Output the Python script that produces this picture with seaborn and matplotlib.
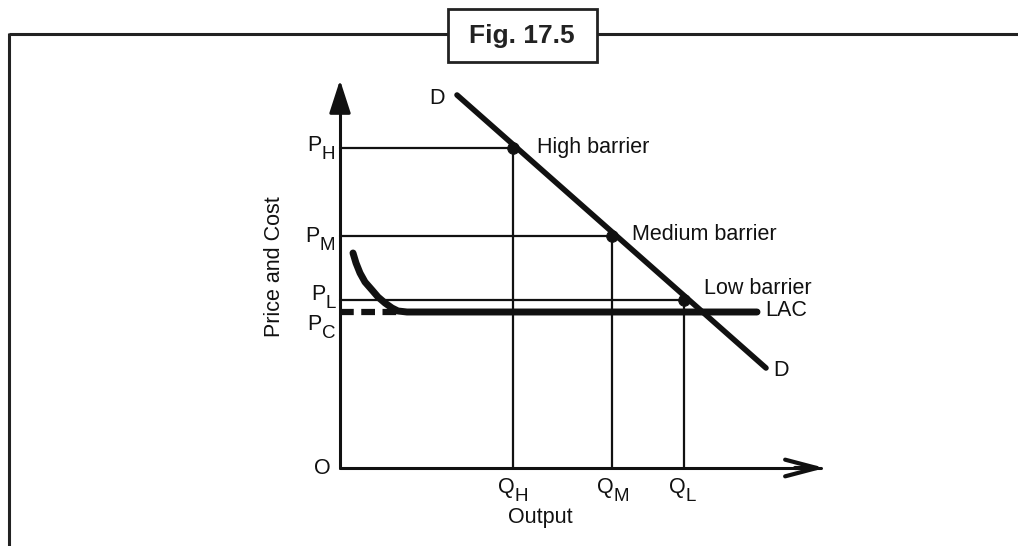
import matplotlib
matplotlib.use("Agg")
import matplotlib.pyplot as plt
import seaborn as sns
import numpy as np

# ---- data (diagram units: origin O at (0,0)) ----
q_labels = ["H", "M", "L"]
q_values = [173, 272, 344]          # Q_H, Q_M, Q_L
p_values = [320, 232, 168]          # P_H, P_M, P_L
p_c = 156                           # P_C (minimum LAC)
barrier_names = ["High barrier", "Medium barrier", "Low barrier"]

demand_x = [117, 426]
demand_y = [373, 100]

lac_x = [13, 16, 20, 25, 32, 38, 45, 52, 58, 67, 417]
lac_y = [215, 205, 195, 186, 178, 171, 165, 160, 157, 156, 156]

yaxis_top = 388
xaxis_end = 485

sns.set_theme(style="white")
plt.rcParams["font.family"] = ["Liberation Sans", "DejaVu Sans"]

W, H = 1018, 546
fig = plt.figure(figsize=(W / 100, H / 100), dpi=100)
fig.patch.set_facecolor("white")

# decoration axes in pixel space (frame + title box)
fax = fig.add_axes([0, 0, 1, 1], zorder=0)
fax.set_xlim(0, W)
fax.set_ylim(H, 0)
fax.axis("off")
fc = "#222222"
fax.plot([9, 448], [34, 34], color=fc, lw=2.2, solid_capstyle="butt")
fax.plot([597, W], [34, 34], color=fc, lw=2.2, solid_capstyle="butt")
fax.plot([9, 9], [33, H], color=fc, lw=2.2, solid_capstyle="butt")
fax.add_patch(plt.Rectangle((448, 9), 149, 53, fill=False, ec=fc, lw=2.0))
fax.text(522, 35.5, "Fig. 17.5", ha="center", va="center", fontsize=19,
         fontweight="bold", color=fc)

# main diagram axes
ax = fig.add_axes([0, 0, 1, 1], zorder=1)
ax.patch.set_alpha(0)
ax.set_xlim(-340, W - 340)
ax.set_ylim(-(H - 468), 468)
ax.axis("off")

ink = "#111111"
thin = 1.6


def seg(x, y, **kw):
    sns.lineplot(x=x, y=y, sort=False, estimator=None, errorbar=None,
                 ax=ax, **kw)
    return ax.lines[-1]


# axes lines
seg([0, 0], [0, yaxis_top - 20], color=ink, lw=2.2)
seg([0, xaxis_end - 4], [0, 0], color=ink, lw=2.2)
ax.annotate("", xy=(0, yaxis_top), xytext=(0, yaxis_top - 30),
            arrowprops=dict(arrowstyle="-|>,head_length=1.7,head_width=0.55",
                            lw=2.2, color=ink, shrinkA=0, shrinkB=0))
ax.annotate("", xy=(xaxis_end, 0), xytext=(xaxis_end - 30, 0),
            arrowprops=dict(arrowstyle="->,head_length=1.9,head_width=0.5",
                            lw=3.0, color=ink, shrinkA=0, shrinkB=0))

# price and quantity guide lines
for q, p in zip(q_values, p_values):
    seg([0, q], [p, p], color=ink, lw=thin)
    seg([q, q], [0, p], color=ink, lw=thin)

# dashed P_C segment
ln = seg([0, lac_x[8]], [p_c, p_c], color=ink, lw=4.5)
ln.set_dashes([2.2, 1.2])
ln.set_dash_capstyle("butt")

# LAC curve
ln = seg(lac_x, lac_y, color=ink, lw=5)
ln.set_solid_capstyle("round")
ln.set_solid_joinstyle("round")

# Demand
ln = seg(demand_x, demand_y, color=ink, lw=4)
ln.set_solid_capstyle("round")

# equilibrium points
sns.scatterplot(x=q_values, y=p_values, color=ink, s=70, ax=ax, zorder=5,
                edgecolor=ink)

fs = 15.5
sub_fs = 13.5


def sublabel(x, y, main, sub, dx):
    ax.text(x, y, main, ha="left", va="baseline", fontsize=fs, color=ink)
    ax.annotate(sub, xy=(x, y), xytext=(dx, -5.8), textcoords="offset points",
                ha="left", va="baseline", fontsize=sub_fs, color=ink)


# P labels (left x, baseline y)
p_label_pos = [(-33, 317), (-35, 226), (-29, 168)]
for name, (lx, yb) in zip(q_labels, p_label_pos):
    sublabel(lx, yb, "P", name, 10.6)
sublabel(-33, 138, "P", "C", 10.6)

# Q labels
for name, q in zip(q_labels, q_values):
    sublabel(q - 15, -25, "Q", name, 12.2)

ax.text(-9, 0, "O", ha="right", va="center", fontsize=fs, color=ink)
ax.text(200, -55, "Output", ha="center", va="baseline", fontsize=fs, color=ink)
ax.text(-65, 201, "Price and Cost", ha="center", va="center", rotation=90,
        fontsize=fs, color=ink)

ax.text(97, 369, "D", ha="center", va="center", fontsize=fs, color=ink)
ax.text(433, 98, "D", ha="left", va="center", fontsize=fs, color=ink)
ax.text(425, 157, "LAC", ha="left", va="center", fontsize=fs, color=ink)

label_pos = [(197, 320), (292, 233), (364, 180)]
for name, (lx, ly) in zip(barrier_names, label_pos):
    ax.text(lx, ly, name, ha="left", va="center", fontsize=fs, color=ink)

fig.savefig("out.png", dpi=100)
